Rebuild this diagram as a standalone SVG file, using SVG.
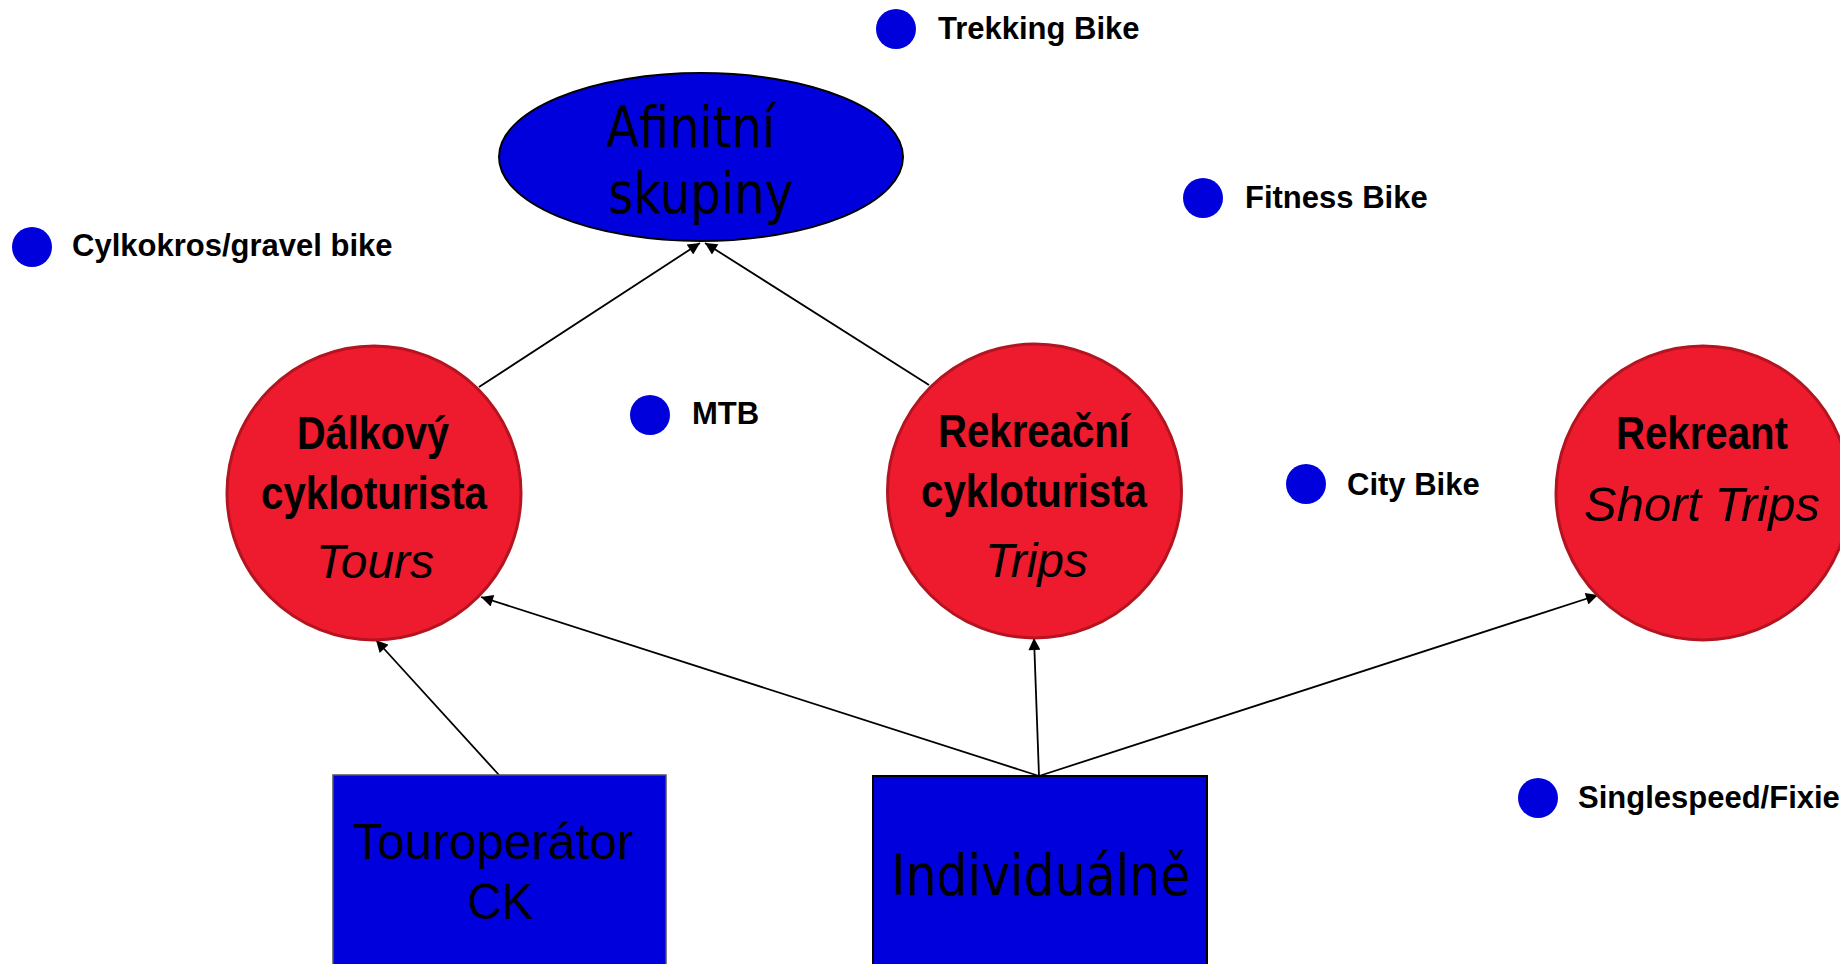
<svg xmlns="http://www.w3.org/2000/svg" width="1840" height="964" viewBox="0 0 1840 964">
<defs>
<style>
.bg{fill:#ffffff}
.blue{fill:#0000DC}
.red{fill:#ED1B2D;stroke:#B3141F;stroke-width:3}
.big{font-family:"DejaVu Sans Condensed","DejaVu Sans",sans-serif;font-size:57px;fill:#000}
.arial{font-family:"Liberation Sans",Arial,sans-serif;font-size:50px;fill:#000}
.nb{font-family:"Liberation Sans Narrow","Liberation Sans",Arial,sans-serif;font-weight:bold;font-size:47px;fill:#000}
.ni{font-family:"Liberation Sans Narrow","Liberation Sans",Arial,sans-serif;font-style:italic;font-size:48px;fill:#000}
.lbl{font-family:"Liberation Sans",Arial,sans-serif;font-weight:bold;font-size:31px;fill:#000}
</style>
<marker id="arr2" viewBox="0 0 10 10" refX="10" refY="5" markerWidth="14" markerHeight="12" markerUnits="userSpaceOnUse" orient="auto">
<path d="M0,0 L10,5 L0,10 z" fill="#000"/>
</marker>
</defs>
<rect class="bg" x="0" y="0" width="1840" height="964"/>

<g id="connectors" stroke="#000" stroke-width="1.8" marker-end="url(#arr2)">
<line x1="479" y1="387" x2="700" y2="243"/>
<line x1="929" y1="385" x2="705" y2="243"/>
<line x1="499" y1="775" x2="376" y2="640"/>
<line x1="1039" y1="776" x2="481" y2="597"/>
<line x1="1039" y1="776" x2="1034" y2="638"/>
<line x1="1039" y1="776" x2="1598" y2="595"/>
</g>

<g id="afinitni">
<ellipse class="blue" cx="701" cy="157" rx="202" ry="84" stroke="#000" stroke-width="2"/>
<text class="big" x="606" y="147" textLength="169" lengthAdjust="spacingAndGlyphs">Afinitní</text>
<text class="big" x="608" y="213" textLength="185" lengthAdjust="spacingAndGlyphs">skupiny</text>
</g>

<g id="dalkovy">
<circle class="red" cx="374" cy="493" r="147"/>
<text class="nb" x="297" y="449" textLength="152" lengthAdjust="spacingAndGlyphs">Dálkový</text>
<text class="nb" x="261" y="509" textLength="226" lengthAdjust="spacingAndGlyphs">cykloturista</text>
<text class="ni" x="316" y="578" textLength="118" lengthAdjust="spacingAndGlyphs">Tours</text>
</g>

<g id="rekreacni">
<circle class="red" cx="1034.5" cy="491" r="147"/>
<text class="nb" x="938" y="447" textLength="192" lengthAdjust="spacingAndGlyphs">Rekreační</text>
<text class="nb" x="921" y="507" textLength="226" lengthAdjust="spacingAndGlyphs">cykloturista</text>
<text class="ni" x="985" y="577" textLength="103" lengthAdjust="spacingAndGlyphs">Trips</text>
</g>

<g id="rekreant">
<circle class="red" cx="1703" cy="493" r="147"/>
<text class="nb" x="1616" y="449" textLength="172" lengthAdjust="spacingAndGlyphs">Rekreant</text>
<text class="ni" x="1584" y="521" textLength="236" lengthAdjust="spacingAndGlyphs">Short Trips</text>
</g>

<g id="touroperator">
<rect class="blue" x="333" y="775" width="333" height="200" stroke="#555" stroke-width="1.5"/>
<text class="arial" x="352" y="859" textLength="281" lengthAdjust="spacingAndGlyphs">Touroperátor</text>
<text class="arial" x="467" y="919" textLength="66" lengthAdjust="spacingAndGlyphs">CK</text>
</g>

<g id="individualne">
<rect class="blue" x="873" y="776" width="334" height="200" stroke="#000" stroke-width="2"/>
<text class="big" x="891" y="895" textLength="299" lengthAdjust="spacingAndGlyphs">Individuálně</text>
</g>

<g id="trekking">
<circle class="blue" cx="896" cy="29" r="20"/>
<text class="lbl" x="938" y="39">Trekking Bike</text>
</g>
<g id="cylkokros">
<circle class="blue" cx="32" cy="247" r="20"/>
<text class="lbl" x="72" y="256">Cylkokros/gravel bike</text>
</g>
<g id="fitness">
<circle class="blue" cx="1203" cy="198" r="20"/>
<text class="lbl" x="1245" y="208">Fitness Bike</text>
</g>
<g id="mtb">
<circle class="blue" cx="650" cy="415" r="20"/>
<text class="lbl" x="692" y="424">MTB</text>
</g>
<g id="city">
<circle class="blue" cx="1306" cy="484" r="20"/>
<text class="lbl" x="1347" y="495">City Bike</text>
</g>
<g id="singlespeed">
<circle class="blue" cx="1538" cy="798" r="20"/>
<text class="lbl" x="1578" y="808">Singlespeed/Fixie</text>
</g>
</svg>
